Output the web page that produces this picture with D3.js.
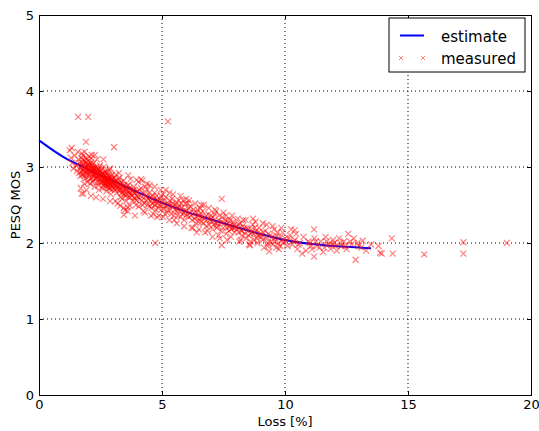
<!DOCTYPE html>
<html>
<head>
<meta charset="utf-8">
<script src="https://cdn.jsdelivr.net/npm/d3@7"></script>
<style>
  body { margin: 0; background: #fff; }
  svg text { font-family: "DejaVu Sans", sans-serif; fill: #000; }
  .axis path, .axis line { stroke: #000; }
  .grid line { stroke: #000; stroke-dasharray: 1,3; }
</style>
</head>
<body>
<svg width="539" height="431"></svg>
<script>
// PESQ MOS vs packet loss: fitted estimate plus measured points

const xTicks = [0, 5, 10, 15, 20];
const yTicks = [0, 1, 2, 3, 4, 5];

// fitted curve
const estimateLoss = [0, 1, 2, 3, 4, 5, 6, 7, 8, 9, 10, 11, 12, 13, 13.5];
const estimateMos = [3.35, 3.13, 2.97, 2.82, 2.67, 2.53, 2.41, 2.31, 2.21, 2.12, 2.04, 1.99, 1.96, 1.94, 1.93];

// measured [loss %, MOS]
const measured = [
  [1.59,3.66],[2.0,3.66],[1.91,3.33],[1.33,3.25],[3.05,3.26],[5.24,3.6],[4.72,2.0],
  [2.14,3.16],[2.62,3.1],[1.73,2.65],[2.32,2.6],[2.89,2.55],[3.5,2.43],[3.7,2.49],[3.63,2.89],[3.97,2.83],
  [1.25,3.22],[1.3,3.12],[1.35,3.05],[1.45,3.15],[1.5,3.02],[1.55,2.95],[1.6,3.1],[1.4,2.98],[1.58,3.2],
  [1.65,3.05],[1.7,2.98],[1.72,3.12],[1.75,2.9],[1.78,3.02],[1.8,3.15],[1.82,2.95],[1.85,3.08],[1.88,2.85],
  [1.9,3.0],[1.92,2.92],[1.95,3.1],[1.97,2.8],[1.99,3.04],[1.68,2.88],[1.74,3.18],[1.83,2.78],[1.86,3.2],
  [1.93,2.7],[1.96,2.96],[1.62,2.92],[1.76,3.06],[1.89,3.12],[1.8,2.9],[1.8,2.65],[1.7,2.72],
  [2.0,2.98],[2.02,3.08],[2.04,2.88],[2.06,3.0],[2.08,2.78],[2.1,2.94],[2.12,3.12],[2.14,2.86],[2.16,3.02],
  [2.18,2.9],[2.2,2.82],[2.22,3.05],[2.24,2.96],[2.26,2.74],[2.28,2.92],[2.3,3.0],[2.32,2.85],[2.34,2.95],
  [2.36,3.1],[2.38,2.8],[2.4,2.9],[2.42,2.98],[2.44,2.7],[2.46,2.88],[2.48,3.02],[2.05,2.92],[2.15,2.97],
  [2.25,2.88],[2.35,2.92],[2.45,2.84],[2.11,2.62],[2.27,3.16],[2.41,2.76],[2.03,3.14],[2.19,2.99],[2.33,2.89],
  [2.5,2.9],[2.52,2.8],[2.54,2.96],[2.56,2.86],[2.58,2.72],[2.6,2.92],[2.62,2.84],[2.64,3.0],[2.66,2.78],
  [2.68,2.88],[2.7,2.82],[2.72,2.94],[2.74,2.68],[2.76,2.86],[2.78,2.76],[2.8,2.9],[2.82,2.8],[2.84,2.72],
  [2.86,2.96],[2.88,2.84],[2.9,2.78],[2.92,2.64],[2.94,2.88],[2.96,2.8],[2.98,2.74],[2.55,2.82],[2.65,2.9],
  [2.75,2.8],[2.85,2.86],[2.95,2.7],[2.6,2.58],[2.9,2.98],[2.7,2.74],
  [1.7,3.0],[1.73,2.94],[1.77,3.1],[1.81,3.04],[1.84,2.88],[1.87,2.98],[1.91,3.06],[1.94,2.86],[1.98,2.94],
  [2.01,3.02],[2.07,2.96],[2.09,2.84],[2.13,3.06],[2.17,2.8],[2.21,2.9],[2.23,2.98],[2.29,2.84],[2.31,2.94],
  [2.37,2.86],[2.39,2.96],[2.43,2.9],[2.47,2.8],[2.49,2.94],[2.53,2.88],[2.57,2.92],[2.59,2.8],[2.63,2.76],
  [2.67,2.84],[2.69,2.94],[2.71,2.86],[2.73,2.78],[2.77,2.92],[2.79,2.84],[2.81,2.74],[2.83,2.88],[2.87,2.78],
  [2.89,2.72],[2.93,2.82],[2.97,2.9],[2.99,2.78],[3.02,2.8],[3.06,2.86],[3.09,2.7],[3.13,2.76],[3.18,2.72],
  [3.22,2.84],[3.27,2.68],[3.31,2.78],[3.35,2.66],[3.42,2.74],[3.47,2.7],[3.5,2.62],[3.56,2.68],[3.62,2.6],
  [3.68,2.72],[3.74,2.64],[3.8,2.68],[3.86,2.6],[3.92,2.66],[3.96,2.56],
  [1.78,2.96],[1.84,3.0],[1.9,2.94],[1.96,3.02],[2.02,2.92],[2.08,3.04],[2.14,2.94],[2.2,3.0],[2.26,2.92],
  [2.32,2.98],[2.38,2.92],[2.44,2.96],[2.5,2.84],[2.56,2.9],[2.62,2.88],[2.68,2.8],[2.74,2.84],[2.8,2.82],
  [2.86,2.8],[2.92,2.76],[2.98,2.84],[3.04,2.76],[3.1,2.82],[3.16,2.74],[3.22,2.78],[3.28,2.72],[3.34,2.8],
  [3.4,2.66],[3.46,2.76],[3.54,2.7],[3.6,2.76],[3.7,2.66],[3.78,2.62],[3.84,2.7],[3.9,2.58],
  [3.0,2.84],[3.04,2.72],[3.08,2.78],[3.12,2.9],[3.16,2.66],[3.2,2.8],[3.24,2.74],[3.28,2.86],[3.32,2.6],
  [3.36,2.76],[3.4,2.7],[3.44,2.82],[3.48,2.64],[3.1,2.55],[3.2,2.52],[3.3,2.7],[3.45,2.46],[3.15,2.82],
  [3.38,2.58],[3.25,2.92],[3.3,2.49],[3.45,2.37],[3.6,2.47],
  [3.52,2.72],[3.58,2.64],[3.64,2.76],[3.7,2.6],[3.76,2.7],[3.82,2.56],[3.88,2.66],[3.94,2.5],[3.98,2.62],
  [3.6,2.42],[3.72,2.84],[3.85,2.74],[3.55,2.55],[3.9,2.36],[3.66,2.68],
  [4.0,2.68],[4.1,2.58],[4.15,2.72],[4.2,2.5],[4.3,2.64],[4.35,2.56],[4.4,2.7],[4.5,2.48],[4.55,2.6],
  [4.6,2.52],[4.7,2.66],[4.75,2.44],[4.8,2.56],[4.9,2.5],[4.95,2.62],[4.05,2.8],[4.25,2.42],[4.45,2.58],
  [4.65,2.38],[4.85,2.46],[4.5,2.76],[4.12,2.62],[4.62,2.58],[4.88,2.36],[4.2,2.82],[5.3,2.66],
  [4.02,2.6],[4.08,2.7],[4.18,2.56],[4.22,2.66],[4.28,2.52],[4.32,2.74],[4.38,2.6],[4.42,2.5],[4.48,2.66],
  [4.52,2.56],[4.58,2.46],[4.64,2.62],[4.68,2.54],[4.72,2.5],[4.78,2.62],[4.82,2.52],[4.92,2.58],[4.98,2.44],
  [4.05,2.48],[4.15,2.84],[4.3,2.4],[4.4,2.78],[4.55,2.36],[4.7,2.74],[4.8,2.34],[4.95,2.7],[4.35,2.62],[4.85,2.56],
  [5.0,2.54],[5.08,2.46],[5.15,2.6],[5.2,2.4],[5.28,2.52],[5.35,2.44],[5.4,2.58],[5.48,2.36],[5.55,2.5],
  [5.6,2.42],[5.68,2.56],[5.75,2.34],[5.8,2.46],[5.88,2.4],[5.95,2.52],[5.5,2.3],[5.7,2.48],[5.9,2.3],
  [5.12,2.38],[5.45,2.48],[5.85,2.56],[5.05,2.64],
  [5.02,2.5],[5.1,2.56],[5.18,2.48],[5.24,2.44],[5.32,2.56],[5.38,2.38],[5.42,2.52],[5.52,2.44],[5.58,2.54],
  [5.62,2.36],[5.72,2.42],[5.78,2.52],[5.82,2.38],[5.92,2.44],[5.98,2.36],
  [5.05,2.34],[5.15,2.7],[5.3,2.3],[5.45,2.64],[5.6,2.26],[5.75,2.62],[5.9,2.22],[5.98,2.58],[5.25,2.5],[5.65,2.46],
  [6.0,2.42],[6.1,2.34],[6.15,2.48],[6.22,2.3],[6.3,2.4],[6.38,2.26],[6.45,2.44],[6.5,2.36],[6.6,2.28],
  [6.65,2.42],[6.72,2.32],[6.8,2.22],[6.88,2.38],[6.95,2.3],[6.05,2.52],[6.55,2.46],[6.25,2.2],[6.85,2.16],
  [6.4,2.34],[6.7,2.5],[6.41,2.14],[7.43,2.58],
  [6.02,2.38],[6.08,2.46],[6.18,2.36],[6.28,2.44],[6.32,2.32],[6.42,2.4],[6.48,2.28],[6.58,2.38],[6.62,2.34],
  [6.68,2.26],[6.78,2.36],[6.82,2.3],[6.92,2.24],[6.98,2.36],
  [6.1,2.56],[6.2,2.2],[6.35,2.52],[6.5,2.18],[6.6,2.5],[6.75,2.14],[6.9,2.46],[6.15,2.4],[6.55,2.34],
  [7.0,2.32],[7.1,2.24],[7.15,2.38],[7.22,2.2],[7.3,2.3],[7.4,2.16],[7.45,2.34],[7.52,2.26],[7.6,2.12],
  [7.68,2.3],[7.75,2.22],[7.82,2.18],[7.9,2.28],[7.95,2.14],[7.2,2.42],[7.6,2.36],[7.35,2.06],[7.8,2.08],
  [7.05,2.18],[7.7,2.26],[7.43,1.97],
  [7.02,2.28],[7.08,2.34],[7.18,2.26],[7.28,2.22],[7.32,2.36],[7.42,2.28],[7.48,2.2],[7.58,2.3],[7.62,2.2],
  [7.72,2.16],[7.78,2.3],[7.88,2.2],[7.92,2.24],[7.98,2.2],
  [7.05,2.08],[7.15,2.44],[7.3,2.1],[7.5,2.4],[7.65,2.04],[7.85,2.36],[7.25,2.26],[7.75,2.22],
  [8.0,2.22],[8.1,2.14],[8.18,2.26],[8.25,2.1],[8.35,2.2],[8.42,2.06],[8.5,2.18],[8.6,2.12],[8.68,2.24],
  [8.75,2.04],[8.82,2.16],[8.9,2.1],[8.95,2.2],[8.3,2.3],[8.55,1.98],[8.8,2.28],[8.15,2.02],[8.58,1.97],
  [8.05,2.18],[8.12,2.24],[8.22,2.16],[8.28,2.22],[8.38,2.12],[8.45,2.2],[8.52,2.1],[8.62,2.18],[8.72,2.12],
  [8.78,2.2],[8.85,2.06],[8.92,2.14],[8.98,2.08],
  [8.08,2.32],[8.2,2.04],[8.4,2.3],[8.6,2.02],[8.7,2.32],[8.88,2.0],[8.25,2.16],[8.65,2.14],
  [9.0,2.12],[9.1,2.04],[9.2,2.16],[9.3,2.0],[9.4,2.1],[9.5,1.98],[9.6,2.06],[9.7,2.14],[9.8,1.96],
  [9.9,2.04],[9.25,2.24],[9.55,2.18],[9.75,1.92],[9.15,1.94],[9.85,2.2],[9.36,1.89],
  [9.05,2.08],[9.12,2.14],[9.22,2.06],[9.32,2.12],[9.42,2.02],[9.48,2.08],[9.58,2.02],[9.65,2.1],[9.72,2.0],
  [9.82,2.08],[9.92,2.0],[10.05,2.02],[10.15,2.06],[10.35,2.02],[10.55,1.98],
  [9.1,2.26],[9.3,1.96],[9.5,2.22],[9.65,1.94],[9.9,2.14],
  [10.0,2.06],[10.1,1.96],[10.2,2.1],[10.3,1.98],[10.4,2.04],[10.5,1.92],[10.6,2.0],[10.75,2.08],[10.85,1.9],
  [10.95,2.02],[10.25,2.18],[10.7,1.86],[10.45,2.12],[10.4,2.17],
  [11.0,2.0],[11.1,1.92],[11.2,2.06],[11.3,1.96],[11.45,2.02],[11.55,1.88],[11.65,2.08],[11.75,1.98],
  [11.85,1.92],[11.95,2.04],[11.18,2.18],[11.18,1.82],[11.6,1.94],
  [11.05,1.96],[11.25,2.02],[11.4,1.94],[11.7,2.02],[11.9,1.98],
  [12.0,2.0],[12.1,1.9],[12.2,2.06],[12.3,1.96],[12.4,2.02],[12.5,1.92],[12.57,2.12],[12.7,1.98],[12.87,1.78],
  [13.0,1.96],[13.16,2.03],[13.3,1.9],[13.5,1.98],[13.8,1.96],[13.87,1.87],[12.8,2.06],
  [12.05,1.96],[12.25,2.0],[12.45,1.96],[12.65,2.02],[12.95,2.0],[13.1,1.94],
  [14.34,2.06],[13.93,1.86],[14.38,1.86],[15.66,1.85],[17.25,2.01],[17.25,1.86],[19.02,2.0]
];

const seriesNames = ['estimate', 'measured'];

let svg = d3.select('svg'),
  margin = { top: 15, right: 8, bottom: 36, left: 39 },
  width = +svg.attr('width') - margin.left - margin.right,
  height = +svg.attr('height') - margin.top - margin.bottom,
  graph = svg.append('g')
    .attr('transform', 'translate(' + margin.left + ',' + margin.top + ')');

let x = d3.scaleLinear().domain([0, 20]).range([0, width]);
let y = d3.scaleLinear().domain([0, 5]).range([height, 0]);

// dotted grid
let grid = graph.append('g').attr('class', 'grid');
grid.selectAll('.gx')
  .data(xTicks.slice(1, -1))
  .enter().append('line')
  .attr('x1', d => x(d)).attr('x2', d => x(d))
  .attr('y1', 0).attr('y2', height);
grid.selectAll('.gy')
  .data(yTicks.slice(1, -1))
  .enter().append('line')
  .attr('y1', d => y(d)).attr('y2', d => y(d))
  .attr('x1', 0).attr('x2', width);

// fitted line
let line = d3.line()
  .x((d, i) => x(estimateLoss[i]))
  .y(d => y(d))
  .curve(d3.curveMonotoneX);

graph.append('path')
  .datum(estimateMos)
  .attr('d', line)
  .attr('fill', 'none')
  .attr('stroke', '#0000ff')
  .attr('stroke-width', 2);

// measured crosses
const cross = s => 'M' + -s + ',' + -s + 'L' + s + ',' + s + 'M' + -s + ',' + s + 'L' + s + ',' + -s;

graph.append('g')
  .selectAll('path')
  .data(measured)
  .enter().append('path')
  .attr('transform', d => 'translate(' + x(d[0]) + ',' + y(d[1]) + ')')
  .attr('d', cross(3))
  .attr('stroke', '#ff0000')
  .attr('stroke-opacity', 0.5)
  .attr('stroke-width', 1.2);

// axes, ticks point inward
const intFmt = d3.format('d');

graph.append('g')
  .attr('class', 'axis')
  .attr('transform', 'translate(0,' + height + ')')
  .call(d3.axisBottom(x).tickValues(xTicks).tickFormat(intFmt).tickSize(-4).tickPadding(5))
  .call(g => g.selectAll('text').attr('font-size', 13));

graph.append('g')
  .attr('class', 'axis')
  .call(d3.axisLeft(y).tickValues(yTicks).tickFormat(intFmt).tickSize(-4).tickPadding(5))
  .call(g => g.selectAll('text').attr('font-size', 13));

graph.append('g')
  .attr('class', 'axis')
  .call(d3.axisTop(x).tickValues(xTicks).tickSize(-4).tickFormat(''));

graph.append('g')
  .attr('class', 'axis')
  .attr('transform', 'translate(' + width + ',0)')
  .call(d3.axisRight(y).tickValues(yTicks).tickSize(-4).tickFormat(''));

// axis titles
svg.append('text')
  .attr('x', margin.left + width / 2)
  .attr('y', 426)
  .attr('text-anchor', 'middle')
  .attr('font-size', 13)
  .text('Loss [%]');

svg.append('text')
  .attr('transform', 'translate(20,' + (margin.top + height / 2) + ') rotate(-90)')
  .attr('text-anchor', 'middle')
  .attr('font-size', 13)
  .text('PESQ MOS');

// legend
let legend = svg.append('g').attr('transform', 'translate(389,18)');
legend.append('rect')
  .attr('width', 136).attr('height', 54)
  .attr('fill', '#fff').attr('stroke', '#000').attr('stroke-width', 1);

legend.append('line')
  .attr('x1', 11).attr('x2', 35).attr('y1', 17.5).attr('y2', 17.5)
  .attr('stroke', '#0000ff').attr('stroke-width', 2);

legend.selectAll('.lm')
  .data([12, 34])
  .enter().append('path')
  .attr('transform', d => 'translate(' + d + ',40)')
  .attr('d', cross(2))
  .attr('stroke', '#ff0000')
  .attr('stroke-opacity', 0.5);

legend.selectAll('.lt')
  .data(seriesNames)
  .enter().append('text')
  .attr('x', 52)
  .attr('y', (d, i) => 23.5 + i * 22)
  .attr('font-size', 15)
  .text(d => d);
</script>
</body>
</html>
